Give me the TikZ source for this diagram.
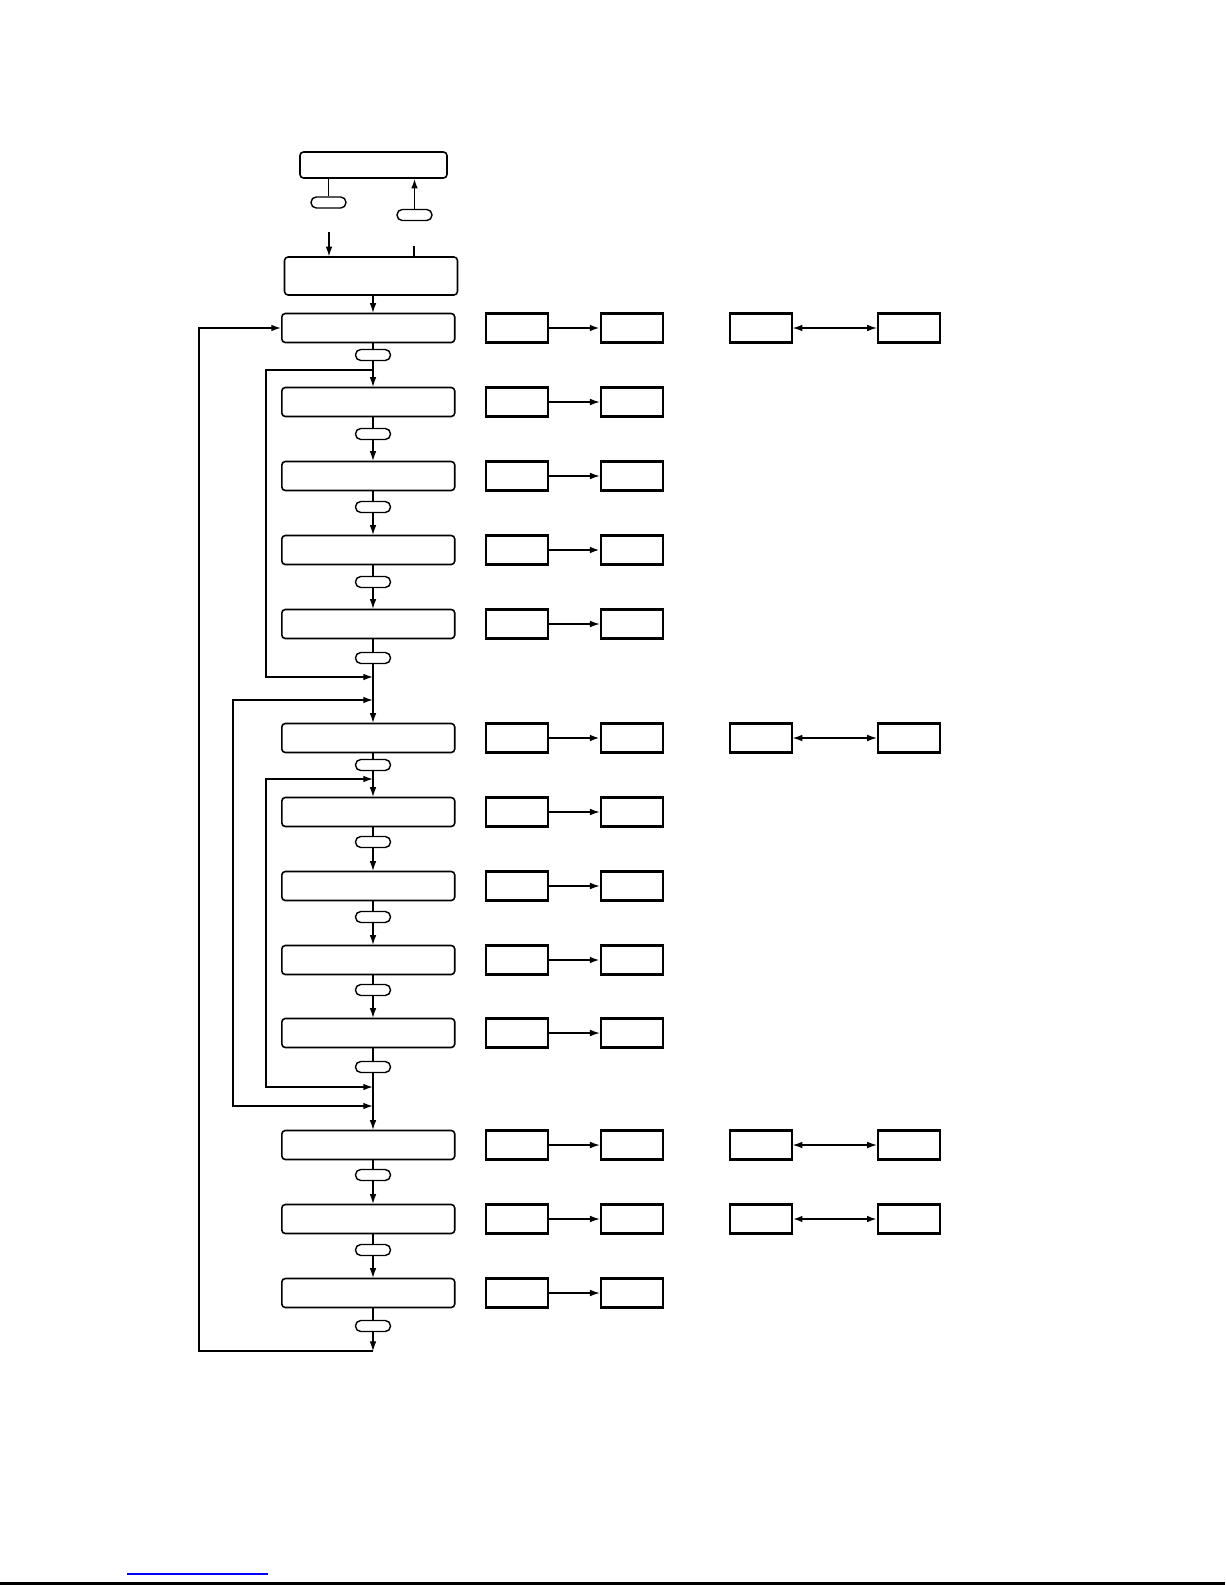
\documentclass[tikz,border=0pt]{standalone}
\usetikzlibrary{arrows.meta, positioning}

\begin{document}
\begin{tikzpicture}[
    x=0.02cm, y=-0.02cm,
    stage/.style={rectangle, draw, rounded corners=2pt, line width=0.9pt, minimum width=3.46cm, minimum height=0.58cm, inner sep=0pt, anchor=west},
    cond/.style={rectangle, draw, rounded corners=3pt, line width=0.8pt, minimum width=0.7cm, minimum height=0.22cm, inner sep=0pt},
    unit/.style={rectangle, draw, line width=1.2pt, minimum width=1.24cm, minimum height=0.58cm, inner sep=0pt},
    flow/.style={line width=0.6pt, -{Latex[length=5.5pt,width=3.8pt]}},
    link/.style={line width=0.6pt},
    back/.style={line width=0.9pt, -{Latex[length=5.5pt,width=3.8pt]}},
    both/.style={line width=0.6pt, {Latex[length=5.5pt,width=3.8pt]}-{Latex[length=5.5pt,width=3.8pt]}}
]
\useasboundingbox (0,0) rectangle (1225,1585);

% top part
\node[rectangle, draw, rounded corners=2pt, line width=0.9pt, minimum width=2.94cm, minimum height=0.52cm, inner sep=0pt] (host) at (373.5,165) {};
\node[cond] (pa) at (328.5,202.5) {};
\node[cond] (pb) at (414.5,215) {};
\node[rectangle, draw, rounded corners=2pt, line width=0.9pt, minimum width=3.46cm, minimum height=0.76cm, inner sep=0pt] (init) at (371,276) {};
\coordinate (ina) at (329,232);
\coordinate (outb) at (414,246);
\draw[link] (host.south -| pa) -- (pa.north);
\draw[back] (pb.north) -- (host.south -| pb);
\draw[flow] (ina) -- (init.north -| ina);
\draw[link] (outb) -- (init.north -| outb);

% main column
\foreach \i/\y in {1/328, 2/402, 3/476, 4/550, 5/624, 6/738, 7/812, 8/886, 9/960, 10/1033, 11/1145, 12/1219, 13/1293}
    \node[stage] (s\i) at (281,\y) {};
\foreach \i/\y in {1/355, 2/434, 3/507, 4/582, 5/658, 6/765, 7/842, 8/917, 9/990, 10/1067, 11/1175, 12/1250, 13/1326}
    \node[cond] (c\i) at (373,\y) {};

% unit pairs
\foreach \i/\w in {1/1.1, 2/0.6, 3/0.6, 4/1.1, 5/0.6, 6/1.1, 7/0.6, 8/0.6, 9/1.1, 10/0.6, 11/0.6, 12/0.6, 13/0.6} {
    \node[unit, right=0.58cm of s\i] (a\i) {};
    \node[unit, right=1.02cm of a\i] (b\i) {};
    \draw[flow, line width=\w pt] (a\i) -- (b\i);
}
\foreach \i/\w in {1/0.6, 6/0.6, 11/0.6, 12/1.1} {
    \node[unit, right=1.3cm of b\i] (p\i) {};
    \node[unit, right=1.68cm of p\i] (q\i) {};
    \draw[both, line width=\w pt] (p\i) -- (q\i);
}

% flow lines
\draw[flow] (init.south -| c1) -- (s1.north -| c1);
\foreach \i in {1,...,13}
    \draw[link] (s\i.south -| c\i) -- (c\i.north);
\foreach \i [evaluate=\i as \j using int(\i+1)] in {1,...,12}
    \draw[flow] (c\i.south) -- (s\j.north -| c\i);
\coordinate (end) at (373,1351);
\draw[flow] (c13.south) -- (end);
\draw[back] (end) -- ++(-174,0) |- (s1.west);

% bypass lines
\coordinate (ja1) at (373,370);
\coordinate (ja2) at (373,677);
\coordinate (jb1) at (373,700);
\coordinate (jb2) at (373,1106);
\coordinate (jc1) at (373,779);
\coordinate (jc2) at (373,1087);
\draw[back] (ja1) -- ++(-107,0) |- (ja2);
\draw[both, line width=0.9pt] (jb1) -- ++(-140,0) |- (jb2);
\draw[both, line width=0.9pt] (jc1) -- ++(-107,0) |- (jc2);

% page marks
\draw[blue, line width=0.8pt] (127,1574) -- (268,1574);
\draw[line width=1.2pt] (0,1583.5) -- (1225,1583.5);
\end{tikzpicture}
\end{document}
